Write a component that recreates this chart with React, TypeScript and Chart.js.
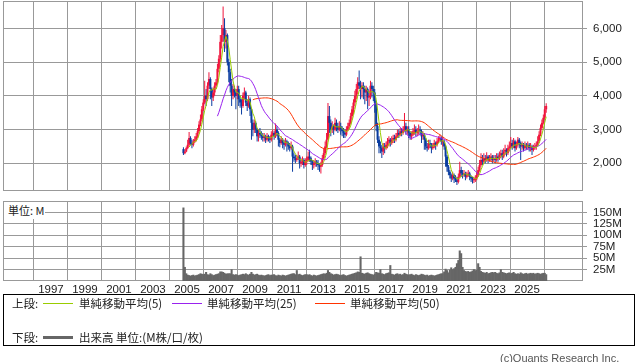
import React, { useEffect, useRef } from 'react';
import { Chart, registerables } from 'chart.js';

Chart.register(...registerables);

// ---- data (monthly candles, Oct 2004 .. Feb 2026) ----
const START_YEAR = 2004;
const START_MONTH = 10;
const FIRST_OPEN = 2420;

const close = [
  2300, 2350, 2450,
  2550, 2750, 2600, 2550, 2650, 2700, 2800, 2950, 3150, 3300, 3600, 3800,
  4000, 3900, 4300, 4500, 4200, 3950, 4100, 4300, 4400, 4800, 5100, 5600,
  5800, 6000, 5600, 5800, 5000, 4700, 4300, 4000, 4200, 4100, 4000, 4200,
  3900, 3800, 3700, 4000, 4100, 3800, 3700, 3900, 3600, 3200, 3000, 3200,
  3000, 2800, 2900, 2850, 2800, 2750, 2800, 2700, 2800, 2750, 2700, 2850,
  2900, 2800, 3000, 2900, 2700, 2600, 2700, 2600, 2550, 2650, 2600, 2500,
  2450, 2500, 2200, 2150, 2100, 2150, 2200, 2000, 2050, 2100, 1950, 2050,
  2100, 2200, 2150, 2050, 1950, 2000, 2050, 2000, 1950, 1900, 1950, 2150,
  2300, 2500, 2700, 3400, 3200, 3000, 3100, 3000, 3200, 3100, 3000, 3100,
  3000, 2950, 2900, 2850, 3000, 3100, 3200, 3400, 3600, 3800, 4000, 4200,
  4400, 4300, 4200, 4300, 4200, 4100, 4200, 3950, 4000, 4300, 4200, 4100,
  3800, 3100, 2700, 2500, 2450, 2350, 2500, 2450, 2550, 2650, 2700, 2600,
  2700, 2750, 2700, 2800, 2900, 2850, 2950, 2900, 3000, 3100, 2950, 3000,
  2900, 2800, 2850, 2950, 3000, 2900, 2950, 3000, 2950, 2800, 2850, 2700,
  2500, 2450, 2600, 2550, 2450, 2500, 2600, 2550, 2650, 2700, 2750, 2650,
  2650, 2500, 2200, 1900, 1750, 1650, 1550, 1650, 1550, 1500, 1450, 1600,
  1800, 1700, 1650, 1700, 1600, 1650, 1700, 1600, 1550, 1500, 1500, 1550,
  1650, 1800, 1950, 2100, 2050, 2150, 2100, 2200, 2100, 2150, 2200, 2100,
  2150, 2100, 2200, 2150, 2250, 2300, 2200, 2350, 2400, 2300, 2450, 2500,
  2600, 2500, 2650, 2450, 2550, 2700, 2600, 2500, 2550, 2450, 2550, 2500,
  2550, 2450, 2500, 2400, 2450, 2500, 2550, 2650, 2850, 3050, 3200, 3350,
  3600, 3700,
];

const high = [
  2480, 2420, 2500,
  2700, 2930, 2800, 2700, 2720, 2800, 2900, 3050, 3250, 3450, 3700, 3900,
  4450, 4200, 4400, 4700, 4550, 4250, 4250, 4400, 4500, 4950, 5200, 5800,
  6100, 6650, 6300, 5950, 5850, 5100, 4800, 4500, 4350, 4300, 4200, 4300,
  4300, 4000, 3900, 4100, 4250, 4150, 3900, 4000, 3950, 3650, 3300, 3300,
  3250, 3050, 3000, 3050, 2950, 2900, 2900, 2850, 2900, 2850, 2800, 2950,
  3000, 2950, 3180, 3100, 2950, 2750, 2800, 2750, 2700, 2750, 2700, 2650,
  2600, 2650, 2550, 2300, 2250, 2250, 2350, 2250, 2150, 2200, 2150, 2150,
  2200, 2350, 2400, 2200, 2100, 2100, 2150, 2100, 2100, 2000, 2050, 2250,
  2450, 2650, 2900, 3790, 3700, 3300, 3250, 3150, 3350, 3300, 3200, 3250,
  3200, 3100, 3050, 3000, 3100, 3200, 3300, 3500, 3700, 3900, 4150, 4350,
  4550, 4750, 4450, 4400, 4400, 4300, 4300, 4250, 4150, 4450, 4400, 4300,
  4200, 3850, 3200, 2800, 2650, 2550, 2600, 2600, 2650, 2750, 2800, 2750,
  2800, 2850, 2850, 2900, 3000, 3000, 3050, 3050, 3100, 3490, 3200, 3100,
  3100, 2950, 2950, 3050, 3150, 3100, 3050, 3150, 3100, 3000, 2950, 2900,
  2750, 2600, 2700, 2700, 2600, 2600, 2700, 2650, 2750, 2800, 2850, 2800,
  2780, 2700, 2550, 2250, 1950, 1800, 1700, 1750, 1700, 1650, 1600, 1700,
  2050, 1900, 1800, 1800, 1750, 1750, 1800, 1750, 1650, 1600, 1600, 1650,
  1750, 1900, 2100, 2300, 2250, 2300, 2250, 2330, 2250, 2250, 2300, 2250,
  2250, 2250, 2300, 2300, 2350, 2400, 2400, 2450, 2550, 2450, 2550, 2650,
  2780, 2700, 2750, 2700, 2650, 2780, 2750, 2650, 2650, 2600, 2650, 2600,
  2650, 2600, 2600, 2550, 2550, 2600, 2650, 2800, 2950, 3150, 3300, 3450,
  3700, 3780,
];

const low = [
  2250, 2270, 2330,
  2420, 2500, 2550, 2450, 2500, 2600, 2650, 2750, 2900, 3100, 3250, 3550,
  3750, 3700, 3850, 4200, 3900, 3700, 3850, 4000, 4200, 4350, 4700, 5000,
  5400, 5600, 5300, 5400, 4900, 4400, 4100, 3700, 3900, 3950, 3600, 3900,
  3700, 3650, 3450, 3650, 3900, 3700, 3550, 3650, 3400, 2700, 2800, 2900,
  2900, 2650, 2650, 2750, 2700, 2650, 2650, 2600, 2650, 2650, 2600, 2650,
  2800, 2700, 2750, 2800, 2500, 2480, 2550, 2450, 2400, 2500, 2350, 2400,
  2350, 2400, 1750, 2050, 2000, 2050, 2100, 1850, 1900, 1950, 1850, 1900,
  1950, 2050, 2050, 1950, 1800, 1850, 1900, 1900, 1800, 1750, 1700, 1900,
  2100, 2250, 2450, 2700, 2900, 2800, 2900, 2850, 2950, 2950, 2900, 2950,
  2850, 2800, 2750, 2750, 2800, 2950, 3050, 3150, 3300, 3450, 3700, 3900,
  4050, 4200, 3900, 3950, 3900, 3750, 3850, 3600, 3700, 3900, 3950, 3850,
  3500, 2950, 2600, 2300, 2300, 2160, 2250, 2300, 2400, 2450, 2500, 2500,
  2550, 2600, 2600, 2650, 2750, 2750, 2800, 2800, 2850, 2950, 2850, 2850,
  2750, 2700, 2700, 2800, 2850, 2800, 2800, 2850, 2850, 2600, 2700, 2400,
  2400, 2350, 2400, 2450, 2300, 2400, 2450, 2400, 2500, 2600, 2650, 2550,
  2500, 2400, 1900, 1750, 1650, 1550, 1450, 1500, 1420, 1450, 1360, 1400,
  1550, 1600, 1550, 1600, 1500, 1550, 1600, 1500, 1450, 1400, 1420, 1450,
  1500, 1600, 1750, 1900, 1950, 2000, 2000, 2050, 2000, 2050, 2050, 2000,
  2050, 2000, 2050, 2050, 2100, 2150, 2100, 2150, 2250, 2200, 2250, 2350,
  2450, 2400, 2450, 2350, 2400, 2500, 2450, 2100, 2400, 2350, 2400, 2400,
  2400, 2350, 2350, 2250, 2350, 2400, 2400, 2500, 2600, 2800, 3000, 3150,
  3300, 3500,
];

// volume, millions of shares
const volume = [
  160, 30, 16,
  13, 12, 11, 12, 13, 11, 12, 13, 14, 16, 15, 14,
  15, 19, 14, 13, 16, 14, 12, 13, 14, 15, 16, 20,
  20, 19, 17, 15, 16, 16, 16, 25, 14, 13, 14, 13,
  12, 13, 14, 15, 14, 16, 14, 13, 15, 19, 15, 13,
  14, 15, 13, 12, 13, 12, 11, 12, 13, 14, 12, 13,
  13, 14, 12, 11, 13, 12, 11, 13, 12, 11, 12, 13,
  14, 15, 16, 16, 14, 23, 14, 15, 13, 12, 13, 14,
  14, 13, 14, 12, 11, 13, 12, 11, 12, 13, 14, 15,
  16, 15, 17, 23, 19, 16, 15, 13, 14, 15, 14, 13,
  12, 13, 14, 12, 11, 12, 13, 14, 15, 16, 17, 18,
  20, 19, 53, 17, 16, 15, 17, 18, 16, 15, 14, 13,
  15, 19, 18, 17, 25, 16, 15, 14, 16, 17, 18, 34,
  15, 14, 13, 15, 16, 14, 15, 13, 14, 17, 15, 14,
  13, 14, 15, 13, 12, 14, 13, 12, 13, 15, 14, 13,
  12, 13, 11, 12, 13, 12, 11, 12, 13, 14, 15, 16,
  16, 20, 26, 23, 18, 24, 29, 25, 27, 30, 38, 45,
  66, 60, 30, 23, 21, 20, 21, 19, 20, 22, 25, 23,
  24, 38, 30, 21, 19, 18, 17, 19, 16, 17, 18, 19,
  18, 19, 17, 16, 18, 25, 19, 18, 17, 16, 17, 18,
  16, 17, 19, 16, 15, 16, 15, 18, 16, 15, 16, 17,
  15, 16, 17, 16, 17, 15, 16, 17, 16, 15, 16, 17,
  17, 14,
];

const yearTicks = [1997, 1999, 2001, 2003, 2005, 2007, 2009, 2011, 2013, 2015, 2017, 2019, 2021, 2023, 2025];
const priceTicks = [2000, 3000, 4000, 5000, 6000];
const volumeTicks = [25, 50, 75, 100, 125, 150];
const maPeriods = [5, 25, 50];
const maLabels = ['単純移動平均(5)', '単純移動平均(25)', '単純移動平均(50)'];

// ---- styling ----
const X_MIN = 1994.18;
const X_MAX = 2028.29;
const UP = '#f0143c';
const DOWN = '#0a3ca0';
const MA_COLORS = ['#99cc00', '#9922ee', '#ff3300'];
const GRID = '#999999';
const FONT = '"Liberation Sans", "Noto Sans CJK JP", sans-serif';
const CJK_FONT = '"Noto Sans CJK JP", "Liberation Sans", sans-serif';

const monthX = (i: number) => START_YEAR + (START_MONTH - 1 + i + 0.5) / 12;
const open = close.map((_, i) => (i === 0 ? FIRST_OPEN : close[i - 1]));

function movingAverage(n: number) {
  const out: { x: number; y: number }[] = [];
  for (let i = n - 1; i < close.length; i++) {
    let s = 0;
    for (let j = i - n + 1; j <= i; j++) s += close[j];
    out.push({ x: monthX(i), y: s / n });
  }
  return out;
}

const framePlugin = {
  id: 'frame',
  beforeDatasetsDraw(chart: any) {
    const { ctx, chartArea: a } = chart;
    ctx.save();
    ctx.strokeStyle = GRID;
    ctx.lineWidth = 1;
    const l = Math.round(a.left) + 0.5;
    const t = Math.round(a.top) + 0.5;
    const r = Math.round(a.right) - 0.5;
    const b = Math.round(a.bottom) - 0.5;
    ctx.strokeRect(l, t, r - l, b - t);
    ctx.restore();
  },
};

function xScale(showLabels: boolean) {
  return {
    type: 'linear',
    min: X_MIN,
    max: X_MAX,
    offset: false,
    grid: { color: GRID, lineWidth: 1, drawTicks: false },
    border: { display: false },
    ticks: {
      display: showLabels,
      padding: 2,
      color: '#222',
      font: { family: FONT, size: 11.5 },
      maxRotation: 0,
      autoSkip: false,
      callback: (v: any) => String(v),
    },
    afterBuildTicks: (s: any) => {
      s.ticks = yearTicks.map((v) => ({ value: v }));
    },
    afterFit: (s: any) => {
      s.height = showLabels ? 19 : 0;
      s.paddingLeft = 0;
      s.paddingRight = 0;
    },
  };
}

function yScale(min: number, max: number, ticks: number[], fmt: (v: number) => string) {
  return {
    position: 'right',
    min,
    max,
    grid: { color: GRID, lineWidth: 1, tickLength: 4 },
    border: { display: false },
    ticks: {
      padding: 6,
      color: '#222',
      font: { family: FONT, size: 11.5 },
      autoSkip: false,
      callback: (v: any) => fmt(Number(v)),
    },
    afterBuildTicks: (s: any) => {
      s.ticks = ticks.map((v) => ({ value: v }));
    },
    afterFit: (s: any) => {
      s.width = 55;
      s.paddingTop = 0;
      s.paddingBottom = 0;
    },
  };
}

export default function App() {
  const priceRef = useRef<HTMLCanvasElement>(null);
  const volRef = useRef<HTMLCanvasElement>(null);

  useEffect(() => {
    const colors = close.map((c, i) => (c >= open[i] ? UP : DOWN));
    const wicks = close.map((_, i) => ({ x: monthX(i), y: [low[i], high[i]] }));
    const bodies = close.map((c, i) => ({ x: monthX(i), y: [open[i], c] }));

    const maSets = maPeriods.map((n, k) => ({
      type: 'line',
      label: maLabels[k],
      data: movingAverage(n),
      borderColor: MA_COLORS[k],
      borderWidth: 1,
      pointRadius: 0,
      tension: 0,
      fill: false,
      order: 0,
    }));

    const price = new Chart(priceRef.current as HTMLCanvasElement, {
      type: 'bar',
      data: {
        datasets: [
          ...maSets,
          {
            type: 'bar',
            data: bodies,
            backgroundColor: colors,
            borderWidth: 0,
            barThickness: 2,
            minBarLength: 1,
            inflateAmount: 0,
            grouped: false,
            order: 1,
          },
          {
            type: 'bar',
            data: wicks,
            backgroundColor: colors,
            borderWidth: 0,
            barThickness: 1,
            inflateAmount: 0,
            grouped: false,
            order: 2,
          },
        ] as any,
      },
      options: {
        animation: false,
        responsive: false,
        maintainAspectRatio: false,
        events: [],
        layout: { padding: { left: 3, top: 1, right: 0, bottom: 1 } },
        plugins: { legend: { display: false }, tooltip: { enabled: false } },
        scales: {
          x: xScale(false),
          y: yScale(1180, 6810, priceTicks, (v) => v.toLocaleString('en-US')),
        } as any,
      },
      plugins: [framePlugin],
    });

    const vol = new Chart(volRef.current as HTMLCanvasElement, {
      type: 'bar',
      data: {
        datasets: [
          {
            data: volume.map((v, i) => ({ x: monthX(i), y: v })),
            backgroundColor: '#666666',
            borderWidth: 0,
            barPercentage: 1,
            categoryPercentage: 1,
          },
        ] as any,
      },
      options: {
        animation: false,
        responsive: false,
        maintainAspectRatio: false,
        events: [],
        layout: { padding: { left: 3, top: 1, right: 0, bottom: 0 } },
        plugins: { legend: { display: false }, tooltip: { enabled: false } },
        scales: {
          x: xScale(true),
          y: yScale(0, 175, volumeTicks, (v) => v + 'M'),
        } as any,
      },
      plugins: [framePlugin],
    });

    return () => {
      price.destroy();
      vol.destroy();
    };
  }, []);

  const txt: React.CSSProperties = {
    position: 'absolute',
    fontFamily: CJK_FONT,
    fontSize: 11.5,
    lineHeight: '14px',
    color: '#222',
    whiteSpace: 'nowrap',
  };
  const line = (left: number, top: number, color: string, h: number): React.CSSProperties => ({
    position: 'absolute',
    left,
    top,
    width: 30,
    height: h,
    background: color,
  });

  return (
    <div style={{ position: 'fixed', left: 0, top: 0, width: 638, height: 362, background: '#fff', overflow: 'hidden' }}>
      <canvas ref={priceRef} width={638} height={192} style={{ position: 'absolute', left: 0, top: 0, width: 638, height: 192 }} />
      <canvas ref={volRef} width={638} height={100} style={{ position: 'absolute', left: 0, top: 200, width: 638, height: 100 }} />
      <div style={{ ...txt, fontSize: 11, left: 4, top: 202, height: 17, width: 41, background: '#fff', paddingLeft: 4, boxSizing: 'border-box', lineHeight: '16px' }}>単位: M</div>

      <div style={{ position: 'absolute', left: 3, top: 294, width: 632, height: 52, border: '1px solid #000', boxSizing: 'border-box' }} />
      <div style={{ ...txt, left: 12, top: 296 }}>上段:</div>
      <div style={line(43, 303, MA_COLORS[0], 1)} />
      <div style={{ ...txt, left: 79, top: 296 }}>{maLabels[0]}</div>
      <div style={line(172, 303, MA_COLORS[1], 1)} />
      <div style={{ ...txt, left: 207, top: 296 }}>{maLabels[1]}</div>
      <div style={line(315, 303, MA_COLORS[2], 1)} />
      <div style={{ ...txt, left: 350, top: 296 }}>{maLabels[2]}</div>
      <div style={{ ...txt, left: 12, top: 330 }}>下段:</div>
      <div style={line(43, 336, '#666666', 3)} />
      <div style={{ ...txt, left: 79, top: 330 }}>出来高 単位:(M株/口/枚)</div>

      <div style={{ ...txt, left: 500, top: 351, fontFamily: FONT, fontSize: 11, color: '#555' }}>(c)Quants Research Inc.</div>
    </div>
  );
}
